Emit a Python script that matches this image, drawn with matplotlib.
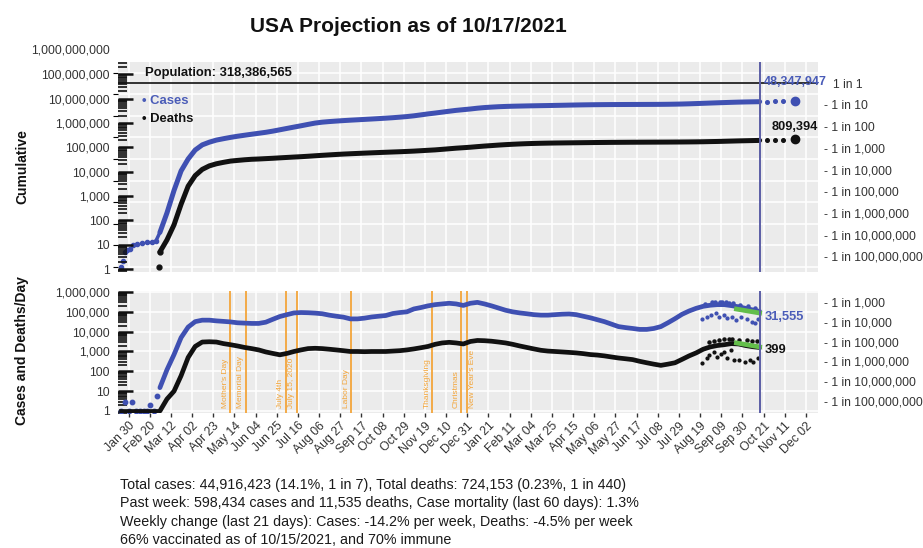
import numpy as np
import pandas as pd
import matplotlib
matplotlib.use("Agg")
import matplotlib.pyplot as plt
import matplotlib.dates as mdates
from matplotlib.ticker import FixedLocator, NullFormatter, NullLocator, FuncFormatter
from matplotlib.transforms import ScaledTranslation

plt.rcParams['font.family'] = ['Liberation Sans', 'DejaVu Sans']

# ---------------- data ----------------
TITLE = "USA Projection as of 10/17/2021"
POPULATION = 318386565
AS_OF = "2021-10-17"

early_case_dates = ["2020-01-22", "2020-01-24", "2020-01-26", "2020-01-28", "2020-01-31", "2020-02-03",
                    "2020-02-07", "2020-02-12", "2020-02-17", "2020-02-22", "2020-02-26"]
early_cum_cases = [1, 2, 5, 6, 7, 11, 12, 13, 14, 15, 16]
early_death_dates = ["2020-02-29"]
early_cum_deaths = [1]

early_daily_case_dates = ["2020-01-22", "2020-01-26", "2020-01-30", "2020-02-02", "2020-02-06", "2020-02-10",
                          "2020-02-14", "2020-02-17", "2020-02-20", "2020-02-24", "2020-02-27"]
early_daily_cases = [1, 3, 1, 3, 1, 1, 1, 1, 2, 1, 6]
early_daily_death_dates = ["2020-01-22", "2020-01-29", "2020-02-05", "2020-02-12", "2020-02-19", "2020-02-26"]
early_daily_deaths = [1, 1, 1, 1, 1, 1]   # zero days shown at 1

weekly_dates = pd.date_range("2020-03-01", "2021-10-17", freq="7D")

cum_cases = [40, 320, 3500, 28000, 100000,
             260000, 450000, 600000, 750000,
             870000, 1000000, 1130000, 1260000, 1400000,
             1550000, 1720000, 1950000, 2250000,
             2600000, 3000000, 3450000, 4000000,
             4600000, 5060000, 5400000, 5700000, 5990000,
             6270000, 6530000, 6810000, 7100000,
             7410000, 7760000, 8150000, 8640000,
             9210000, 9980000, 11040000, 12240000, 13380000,
             14760000, 16260000, 17860000, 19210000,
             20640000, 22470000, 24030000, 25240000, 26310000,
             27100000, 27740000, 28190000, 28660000,
             29070000, 29450000, 29830000, 30270000,
             30720000, 31200000, 31670000, 32080000,
             32420000, 32700000, 32930000, 33110000, 33240000,
             33340000, 33440000, 33530000, 33620000,
             33720000, 33880000, 34130000, 34550000,
             35100000, 35850000, 36790000, 37800000, 38870000,
             39920000, 40950000, 42000000, 42950000,
             43700000, 44330000, 44916423]

cum_deaths = [5, 18, 90, 800, 5500,
              17000, 33000, 48000, 60000,
              70000, 80000, 86000, 92000, 97000,
              100000, 104000, 108000, 113000,
              118000, 123000, 128000, 134000,
              141000, 148000, 155000, 162000, 169000,
              175000, 181000, 187000, 193000,
              199000, 205000, 211000, 217000,
              224000, 232000, 242000, 253000, 264000,
              280000, 298000, 317000, 333000,
              351000, 374000, 397000, 418000, 441000,
              462000, 481000, 498000, 513000,
              525000, 535000, 543000, 550000,
              555000, 560000, 565000, 570000,
              575000, 580000, 584000, 588000, 591000,
              594000, 597000, 599000, 601000,
              603000, 605000, 607000, 610000,
              613000, 617000, 622000, 629000, 639000,
              648000, 661000, 675000, 689000,
              701000, 713000, 724153]

daily_cases = [15, 120, 700, 5000, 17000,
               32000, 38000, 38000, 35000,
               33000, 31000, 28000, 27000, 26000,
               26000, 30000, 42000, 58000,
               72000, 88000, 92000, 90000,
               86000, 80000, 68000, 60000, 54000,
               44000, 44000, 48000, 55000,
               60000, 65000, 82000, 92000,
               100000, 140000, 165000, 200000, 230000,
               250000, 270000, 250000, 210000,
               270000, 300000, 250000, 200000, 155000,
               120000, 100000, 88000, 80000,
               72000, 68000, 68000, 72000,
               76000, 78000, 72000, 60000,
               50000, 40000, 32000, 24000, 18000,
               16000, 14500, 13000, 13000,
               14500, 18000, 28000, 45000,
               75000, 110000, 150000, 190000, 215000,
               230000, 230000, 205000, 180000,
               150000, 125000, 105000]

daily_deaths = [1, 4, 10, 60, 500,
                1800, 3000, 3100, 3000,
                2500, 2200, 1900, 1600, 1400,
                1200, 950, 800, 680,
                800, 1000, 1200, 1400,
                1450, 1400, 1300, 1200, 1100,
                1000, 1000, 980, 1000,
                1000, 1000, 1050, 1100,
                1200, 1350, 1550, 1800, 2300,
                2700, 2900, 2700, 2400,
                3200, 3600, 3500, 3300, 3000,
                2700, 2300, 1900, 1600,
                1350, 1150, 1050, 1000,
                950, 900, 850, 780,
                700, 660, 600, 530, 470,
                430, 390, 320, 270,
                230, 200, 230, 270,
                400, 600, 850, 1300, 1700,
                2000, 2200, 2500, 2400,
                2000, 1750, 1600]

# raw-report spikes above the daily curves (late 2021)
spike_case_dates = ["2021-08-24", "2021-08-31", "2021-09-03", "2021-09-08", "2021-09-10", "2021-09-14",
                    "2021-09-17", "2021-09-21", "2021-09-28", "2021-10-05", "2021-10-12"]
spike_cases = [260000, 300000, 320000, 330000, 300000, 310000, 280000, 270000, 230000, 190000, 160000]
spike_death_dates = ["2021-08-28", "2021-09-02", "2021-09-07", "2021-09-12", "2021-09-17", "2021-09-20",
                     "2021-09-27", "2021-10-04", "2021-10-09", "2021-10-14"]
spike_deaths = [3000, 3500, 3900, 4300, 4500, 4400, 4000, 3600, 3400, 3200]

# earlier projections (scattered dots, bottom panel)
old_proj_case_dates = ["2021-08-21", "2021-08-26", "2021-08-30", "2021-09-04", "2021-09-07", "2021-09-12",
                       "2021-09-15", "2021-09-20", "2021-09-24", "2021-09-29", "2021-10-04", "2021-10-09",
                       "2021-10-12", "2021-10-15"]
old_proj_cases = [42000, 57000, 70000, 85000, 53000, 70000, 47000, 57000, 39000, 53000, 42000, 32000,
                  28000, 42000]
old_proj_death_dates = ["2021-08-21", "2021-08-26", "2021-08-28", "2021-09-02", "2021-09-05", "2021-09-09",
                        "2021-09-12", "2021-09-15", "2021-09-19", "2021-09-22", "2021-09-27", "2021-10-02",
                        "2021-10-07", "2021-10-10", "2021-10-15"]
old_proj_deaths = [255, 450, 665, 980, 550, 750, 980, 450, 1200, 370, 370, 300, 370, 300, 450]

# recent trend fit (green)
fit_dates = ["2021-09-24", "2021-10-17"]
fit_cases = [138000, 87000]
fit_deaths = [2700, 1700]

# projection (top panel)
proj_dates = ["2021-10-24", "2021-11-01", "2021-11-09"]
proj_cases = [45600000, 46300000, 47000000]
proj_deaths = [738000, 752000, 767000]
final_proj_date = "2021-11-21"
final_proj_cases = 48347947
final_proj_deaths = 809394
label_daily_cases = "31,555"
label_daily_deaths = "399"

holiday_names = ["Mother's Day", "Memorial Day", "July 4th", "July 15, 2020", "Labor Day",
                 "Thanksgiving", "Christmas", "New Year's Eve"]
holiday_dates = ["2020-05-10", "2020-05-25", "2020-07-04", "2020-07-15", "2020-09-07",
                 "2020-11-26", "2020-12-25", "2020-12-31"]

x_tick_dates = pd.date_range("2020-01-30", "2021-12-02", freq="21D")

summary_lines = [
    "Total cases: 44,916,423 (14.1%, 1 in 7), Total deaths: 724,153 (0.23%, 1 in 440)",
    "Past week: 598,434 cases and 11,535 deaths, Case mortality (last 60 days): 1.3%",
    "Weekly change (last 21 days): Cases: -14.2% per week, Deaths: -4.5% per week",
    "66% vaccinated as of 10/15/2021, and 70% immune",
]

# ---------------- style ----------------
BLUE = "#3F50B2"
BLUE_LBL = "#4A5CB8"
BLACK = "#111111"
GREEN = "#63BE4A"
ORANGE = "#F3A53A"
VLINE = "#5B5EA6"
PANEL = "#EBEBEB"
TXT = "#333333"

D = lambda s: pd.to_datetime(s)
fig = plt.figure(figsize=(9.23, 5.48), dpi=100)
L, W = 118 / 923, 700 / 923
ax1 = fig.add_axes([L, (548 - 272) / 548, W, 210 / 548])
ax2 = fig.add_axes([L, (548 - 413) / 548, W, 122 / 548])

xmin = pd.Timestamp("2020-01-19 10:00")
xmax = pd.Timestamp("2021-12-13 22:00")


def comma(v, pos=None):
    return f"{int(round(v)):,}"


def log_minor(kmin, kmax):
    return FixedLocator([s * 10.0 ** k for k in range(kmin, kmax) for s in range(2, 10)])


for ax in (ax1, ax2):
    ax.set_facecolor(PANEL)
    for s in ax.spines.values():
        s.set_visible(False)
    ax.set_yscale("log")
    ax.set_xlim(xmin, xmax)
    ax.xaxis.set_major_locator(FixedLocator(mdates.date2num(x_tick_dates)))
    ax.xaxis.set_minor_locator(NullLocator())
    ax.grid(True, which="major", color="white", lw=1.1)
    ax.set_axisbelow(True)

# ---- top panel (cumulative) ----
ax1.set_ylim(10 ** -0.231, 10 ** 9.49)
ax1.yaxis.set_major_locator(FixedLocator(10.0 ** np.arange(0, 10)))
ax1.yaxis.set_minor_locator(NullLocator())
ax1.tick_params(axis="y", left=False, labelleft=False, right=False)
ax1.tick_params(axis="x", bottom=False, labelbottom=False)

ax1.axhline(POPULATION, color="#222222", lw=1.3, zorder=2)
ax1.plot(D(early_case_dates), early_cum_cases, "o", color=BLUE, ms=3, zorder=3)
ax1.plot(weekly_dates, cum_cases, "-", color=BLUE, lw=3.6, solid_capstyle="round", zorder=3)
ax1.plot([D(early_case_dates[-1]), weekly_dates[0]], [early_cum_cases[-1], cum_cases[0]], "-",
         color=BLUE, lw=2.5, zorder=3)
ax1.plot(D(early_death_dates), early_cum_deaths, "o", color=BLACK, ms=3.5, zorder=4)
ax1.plot(weekly_dates, cum_deaths, "-", color=BLACK, lw=3.6, solid_capstyle="round", zorder=4)
ax1.plot(weekly_dates[:1], cum_deaths[:1], "o", color=BLACK, ms=3.5, zorder=4)

ax1.plot(D(proj_dates), proj_cases, "o", color=BLUE, ms=2.6, zorder=4)
ax1.plot([D(final_proj_date)], [final_proj_cases], "o", color=BLUE, ms=6, zorder=4)
ax1.plot(D(proj_dates), proj_deaths, "o", color=BLACK, ms=2.6, zorder=4)
ax1.plot([D(final_proj_date)], [final_proj_deaths], "o", color=BLACK, ms=6, zorder=4)
ax1.axvline(D(AS_OF), color=VLINE, lw=1.4, zorder=5)

ax1.annotate(f"{final_proj_cases:,}", xy=(D(final_proj_date), final_proj_cases), xytext=(32, 19),
             textcoords="offset pixels", ha="right", va="center", fontsize=9.0, weight="bold",
             color=BLUE_LBL, annotation_clip=False, zorder=6)
ax1.annotate(f"{final_proj_deaths:,}", xy=(D(final_proj_date), final_proj_deaths), xytext=(23, 12),
             textcoords="offset pixels", ha="right", va="center", fontsize=9.2, weight="bold",
             color=BLACK, annotation_clip=False, zorder=6)

ax1.text((145 - 118) / 700, (272 - 73) / 210, f"Population: {POPULATION:,}", transform=ax1.transAxes,
         ha="left", va="center", fontsize=9.4, weight="bold", color=BLACK)
ax1.text((142 - 118) / 700, (272 - 101) / 210, "• Cases", transform=ax1.transAxes,
         ha="left", va="center", fontsize=9.4, weight="bold", color=BLUE_LBL)
ax1.text((142 - 118) / 700, (272 - 119) / 210, "• Deaths", transform=ax1.transAxes,
         ha="left", va="center", fontsize=9.4, weight="bold", color=BLACK)

# left label axis (top)
axL = ax1.twinx()
axL.set_yscale("log")
axL.set_ylim(10 ** -0.123, 10 ** 8.508)
axL.yaxis.tick_left()
axL.yaxis.set_major_locator(FixedLocator(10.0 ** np.arange(0, 9)))
axL.yaxis.set_major_formatter(FuncFormatter(comma))
axL.yaxis.set_minor_locator(log_minor(-1, 9))
axL.yaxis.set_minor_formatter(NullFormatter())
axL.tick_params(axis="y", which="major", direction="in", length=11, width=1.8, color=BLACK,
                labelsize=8.7, labelcolor=TXT, pad=6)
axL.tick_params(axis="y", which="minor", direction="in", length=6.5, width=1.2, color=BLACK)
for s in axL.spines.values():
    s.set_visible(False)
axL.text(-0.011, 1e9, "1,000,000,000", transform=axL.get_yaxis_transform(), ha="right", va="center",
         fontsize=8.7, color=TXT, clip_on=False)

# right label axis (top)
axR1 = ax1.twinx()
axR1.set_yscale("log")
axR1.set_ylim(ax1.get_ylim())
ratios = 10 ** np.arange(0, 9)
axR1.yaxis.set_major_locator(FixedLocator(POPULATION / ratios))
axR1.yaxis.set_minor_locator(NullLocator())
axR1.set_yticklabels(["1 in 1"] + [f"- 1 in {int(r):,}" for r in ratios[1:]])
axR1.tick_params(axis="y", length=0, pad=4, labelsize=8.7, labelcolor=TXT)
first = axR1.get_yticklabels()[0]
first.set_transform(first.get_transform() + ScaledTranslation(9 / 100, 0, fig.dpi_scale_trans))
for s in axR1.spines.values():
    s.set_visible(False)

# ---- bottom panel (daily) ----
ax2.set_ylim(10 ** -0.101, 10 ** 6.05)
ax2.yaxis.set_major_locator(FixedLocator(10.0 ** np.arange(0, 7)))
ax2.yaxis.set_major_formatter(FuncFormatter(comma))
ax2.yaxis.set_minor_locator(log_minor(-1, 7))
ax2.yaxis.set_minor_formatter(NullFormatter())
ax2.tick_params(axis="y", which="major", direction="in", length=11, width=1.8, color=BLACK,
                labelsize=8.7, labelcolor=TXT, pad=6)
ax2.tick_params(axis="y", which="minor", direction="in", length=6.5, width=1.2, color=BLACK)
ax2.xaxis.set_major_formatter(mdates.DateFormatter("%b %d"))
ax2.tick_params(axis="x", direction="out", length=3, width=1, color=TXT, labelsize=8.8,
                labelcolor=TXT, pad=2)
for lab in ax2.get_xticklabels():
    lab.set_rotation(45)
    lab.set_ha("right")
    lab.set_va("top")
    lab.set_rotation_mode("anchor")

for name, d in zip(holiday_names, holiday_dates):
    ax2.axvline(D(d), color=ORANGE, lw=1.3, zorder=1.5)
    off = 5 if name == "New Year's Eve" else -5
    ax2.annotate(name, xy=(D(d), 0.04), xycoords=("data", "axes fraction"), xytext=(off, 0),
                 textcoords="offset pixels", rotation=90, ha="center", va="bottom",
                 fontsize=6, color=ORANGE, zorder=1.6)

ax2.plot(D(early_daily_case_dates), early_daily_cases, "o", color=BLUE, ms=3.2, zorder=3)
ax2.plot(weekly_dates, daily_cases, "-", color=BLUE, lw=3.4, solid_capstyle="round", zorder=3)
ax2.plot(D(spike_case_dates), spike_cases, "o", color=BLUE, ms=2.2, zorder=3)
ax2.plot(D(old_proj_case_dates), old_proj_cases, "o", color=BLUE, ms=2.0, zorder=3)
ax2.plot(D(early_daily_death_dates), early_daily_deaths, "-", color=BLACK, lw=3.4, zorder=4)
ax2.plot(weekly_dates, daily_deaths, "-", color=BLACK, lw=3.4, solid_capstyle="round", zorder=4)
ax2.plot(D(spike_death_dates), spike_deaths, "o", color=BLACK, ms=2.2, zorder=4)
ax2.plot(D(old_proj_death_dates), old_proj_deaths, "o", color=BLACK, ms=2.0, zorder=4)
ax2.plot(D(fit_dates), fit_cases, "-", color=GREEN, lw=3.4, zorder=5)
ax2.plot(D(fit_dates), fit_deaths, "-", color=GREEN, lw=3.4, zorder=5)
ax2.axvline(D(AS_OF), color=VLINE, lw=1.4, zorder=6)

ax2.annotate(label_daily_cases, xy=(D(fit_dates[-1]), fit_cases[-1]), xytext=(5, -4),
             textcoords="offset pixels", ha="left", va="center", fontsize=9.3, weight="bold",
             color=BLUE_LBL, annotation_clip=False, zorder=7)
ax2.annotate(label_daily_deaths, xy=(D(fit_dates[-1]), fit_deaths[-1]), xytext=(5, -3),
             textcoords="offset pixels", ha="left", va="center", fontsize=9.3, weight="bold",
             color=BLACK, annotation_clip=False, zorder=7)

axR2 = ax2.twinx()
axR2.set_yscale("log")
axR2.set_ylim(ax2.get_ylim())
ratios2 = 10 ** np.arange(3, 9)
axR2.yaxis.set_major_locator(FixedLocator(POPULATION / ratios2))
axR2.yaxis.set_minor_locator(NullLocator())
axR2.set_yticklabels([f"- 1 in {int(r):,}" for r in ratios2])
axR2.tick_params(axis="y", length=0, pad=4, labelsize=8.7, labelcolor=TXT)
for s in axR2.spines.values():
    s.set_visible(False)

# ---- figure texts ----
fig.text(408 / 923, 1 - 27 / 548, TITLE, ha="center", va="center", fontsize=15, weight="bold",
         color="#111111")
fig.text(22 / 923, 1 - 167 / 548, "Cumulative", rotation=90, ha="center", va="center",
         fontsize=10, weight="bold", color="#111111")
fig.text(22 / 923, 1 - 351 / 548, "Cases and Deaths/Day", rotation=90, ha="center", va="center",
         fontsize=10, weight="bold", color="#111111")
for i, line in enumerate(summary_lines):
    fig.text(120 / 923, 1 - (485 + 18.5 * i) / 548, line, ha="left", va="center", fontsize=10.3,
             color="#1a1a1a")

fig.savefig("out.png", dpi=100)
